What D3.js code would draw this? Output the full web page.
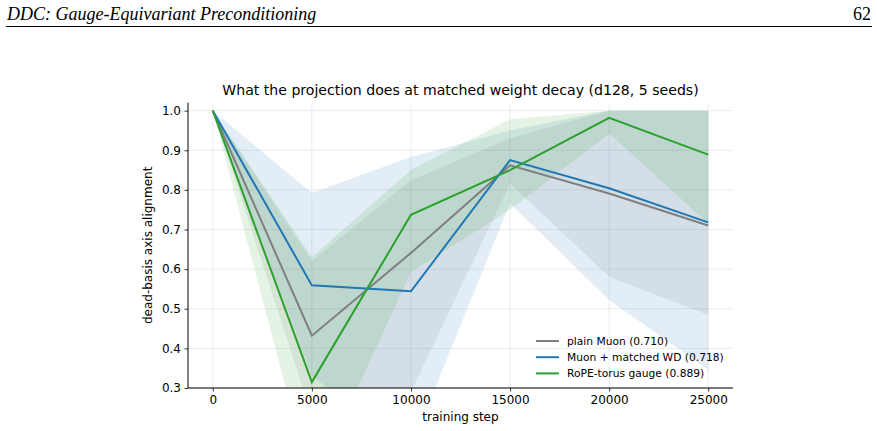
<!DOCTYPE html>
<html>
<head>
<meta charset="utf-8">
<script src="https://cdn.jsdelivr.net/npm/d3@7"></script>
<style>
  html, body { margin: 0; padding: 0; background: #fff; }
  svg { display: block; }
</style>
</head>
<body>
<svg id="chart" width="877" height="431"></svg>
<script>
// training steps
const steps = [0, 5000, 10000, 15000, 20000, 25000];
const xTicks = [0, 5000, 10000, 15000, 20000, 25000];
const yTicks = [0.3, 0.4, 0.5, 0.6, 0.7, 0.8, 0.9, 1.0];

// mean alignment per series
const plainMean = [1.0, 0.432, 0.641, 0.862, 0.791, 0.710];
const wdMean    = [1.0, 0.559, 0.544, 0.875, 0.804, 0.718];
const ropeMean  = [1.0, 0.315, 0.737, 0.850, 0.982, 0.889];

// seed spread (shaded bands)
const plainLo = [1.0, 0.23, 0.29, 0.816, 0.581, 0.484];
const plainHi = [1.0, 0.62, 0.824, 0.93, 1.0, 1.0];
const wdLo    = [1.0, 0.33, 0.15, 0.766, 0.522, 0.346];
const wdHi    = [1.0, 0.792, 0.883, 0.95, 1.0, 1.0];
const ropeLo  = [1.0, 0.05, 0.593, 0.75, 0.942, 0.716];
const ropeHi  = [1.0, 0.63, 0.85, 0.978, 1.0, 1.0];

const series = [
    { label: 'plain Muon (0.710)',      color: '#7f7f7f', mean: plainMean, lo: plainLo, hi: plainHi },
    { label: 'Muon + matched WD (0.718)', color: '#1f77b4', mean: wdMean, lo: wdLo, hi: wdHi },
    { label: 'RoPE-torus gauge (0.889)', color: '#2ca02c', mean: ropeMean, lo: ropeLo, hi: ropeHi }
];

const svg = d3.select('#chart');
const font = 'DejaVu Sans, sans-serif';

// page header
svg.append('text')
    .attr('x', 7).attr('y', 20)
    .style('font-family', 'Liberation Serif, serif')
    .style('font-style', 'italic')
    .style('font-size', '18px')
    .attr('fill', '#000')
    .text('DDC: Gauge-Equivariant Preconditioning');
svg.append('text')
    .attr('x', 871).attr('y', 20)
    .attr('text-anchor', 'end')
    .style('font-family', 'Liberation Serif, serif')
    .style('font-size', '18px')
    .attr('fill', '#000')
    .text('62');
svg.append('line')
    .attr('x1', 6).attr('x2', 872)
    .attr('y1', 26.5).attr('y2', 26.5)
    .attr('stroke', '#000').attr('stroke-width', 1);

// plot area
const plotLeft = 188, plotRight = 733, plotTop = 102.7, plotBottom = 388;
const x = d3.scaleLinear().domain([-1250, 26250]).range([plotLeft, plotRight]);
const y = d3.scaleLinear().domain([0.3, 1.02]).range([plotBottom, plotTop]);

svg.append('clipPath').attr('id', 'plot-clip')
    .append('rect')
    .attr('x', plotLeft).attr('y', plotTop)
    .attr('width', plotRight - plotLeft).attr('height', plotBottom - plotTop);

// grid
const grid = svg.append('g').attr('stroke', '#b0b0b0').attr('stroke-opacity', 0.3).attr('stroke-width', 0.8);
grid.selectAll('.gx').data(xTicks).enter().append('line')
    .attr('x1', d => x(d)).attr('x2', d => x(d))
    .attr('y1', plotTop).attr('y2', plotBottom);
grid.selectAll('.gy').data(yTicks).enter().append('line')
    .attr('x1', plotLeft).attr('x2', plotRight)
    .attr('y1', d => y(d)).attr('y2', d => y(d));

const plot = svg.append('g').attr('clip-path', 'url(#plot-clip)');

// bands
const area = d3.area()
    .x(d => x(d.step))
    .y0(d => y(d.lo))
    .y1(d => y(d.hi));

series.forEach(s => {
    const rows = steps.map((step, i) => ({ step, lo: s.lo[i], hi: s.hi[i] }));
    plot.append('path')
        .datum(rows)
        .attr('d', area)
        .attr('fill', s.color)
        .attr('fill-opacity', 0.13)
        .attr('stroke', 'none');
});

// mean lines
const line = d3.line()
    .x(d => x(d.step))
    .y(d => y(d.v));

series.forEach(s => {
    const rows = steps.map((step, i) => ({ step, v: s.mean[i] }));
    plot.append('path')
        .datum(rows)
        .attr('d', line)
        .attr('fill', 'none')
        .attr('stroke', s.color)
        .attr('stroke-width', 2)
        .attr('stroke-linejoin', 'miter');
});

// axes
const xAxis = d3.axisBottom(x).tickValues(xTicks).tickFormat(d3.format('d')).tickSize(3.5).tickPadding(3.5);
const yAxis = d3.axisLeft(y).tickValues(yTicks).tickFormat(d3.format('.1f')).tickSize(3.5).tickPadding(3.5);

const gx = svg.append('g').attr('transform', `translate(0,${plotBottom})`).call(xAxis);
const gy = svg.append('g').attr('transform', `translate(${plotLeft},0)`).call(yAxis);

[gx, gy].forEach(g => {
    g.select('.domain').remove();
    g.selectAll('.tick line').attr('stroke', '#000').attr('stroke-width', 0.8);
    g.selectAll('.tick text')
        .attr('fill', '#000')
        .style('font-family', font)
        .style('font-size', '12px');
});

// spines (left and bottom only)
svg.append('line')
    .attr('x1', plotLeft).attr('x2', plotLeft).attr('y1', plotTop).attr('y2', plotBottom)
    .attr('stroke', '#000').attr('stroke-width', 1);
svg.append('line')
    .attr('x1', plotLeft).attr('x2', plotRight).attr('y1', plotBottom).attr('y2', plotBottom)
    .attr('stroke', '#000').attr('stroke-width', 1);

// title and labels
svg.append('text')
    .attr('x', (plotLeft + plotRight) / 2).attr('y', 95)
    .attr('text-anchor', 'middle')
    .style('font-family', font)
    .style('font-size', '14.1px')
    .attr('fill', '#000')
    .text('What the projection does at matched weight decay (d128, 5 seeds)');

svg.append('text')
    .attr('x', (plotLeft + plotRight) / 2).attr('y', 421)
    .attr('text-anchor', 'middle')
    .style('font-family', font)
    .style('font-size', '12px')
    .attr('fill', '#000')
    .text('training step');

svg.append('text')
    .attr('transform', `translate(152,${(plotTop + plotBottom) / 2}) rotate(-90)`)
    .attr('text-anchor', 'middle')
    .style('font-family', font)
    .style('font-size', '12px')
    .attr('fill', '#000')
    .text('dead-basis axis alignment');

// legend
const legend = svg.append('g').attr('transform', 'translate(536,341)');
series.forEach((s, i) => {
    const row = legend.append('g').attr('transform', `translate(0,${i * 16.2})`);
    row.append('line')
        .attr('x1', 0).attr('x2', 23)
        .attr('y1', 0).attr('y2', 0)
        .attr('stroke', s.color).attr('stroke-width', 2);
    row.append('text')
        .attr('x', 31).attr('y', 3.9)
        .style('font-family', font)
        .style('font-size', '10.7px')
        .attr('fill', '#000')
        .text(s.label);
});
</script>
</body>
</html>
